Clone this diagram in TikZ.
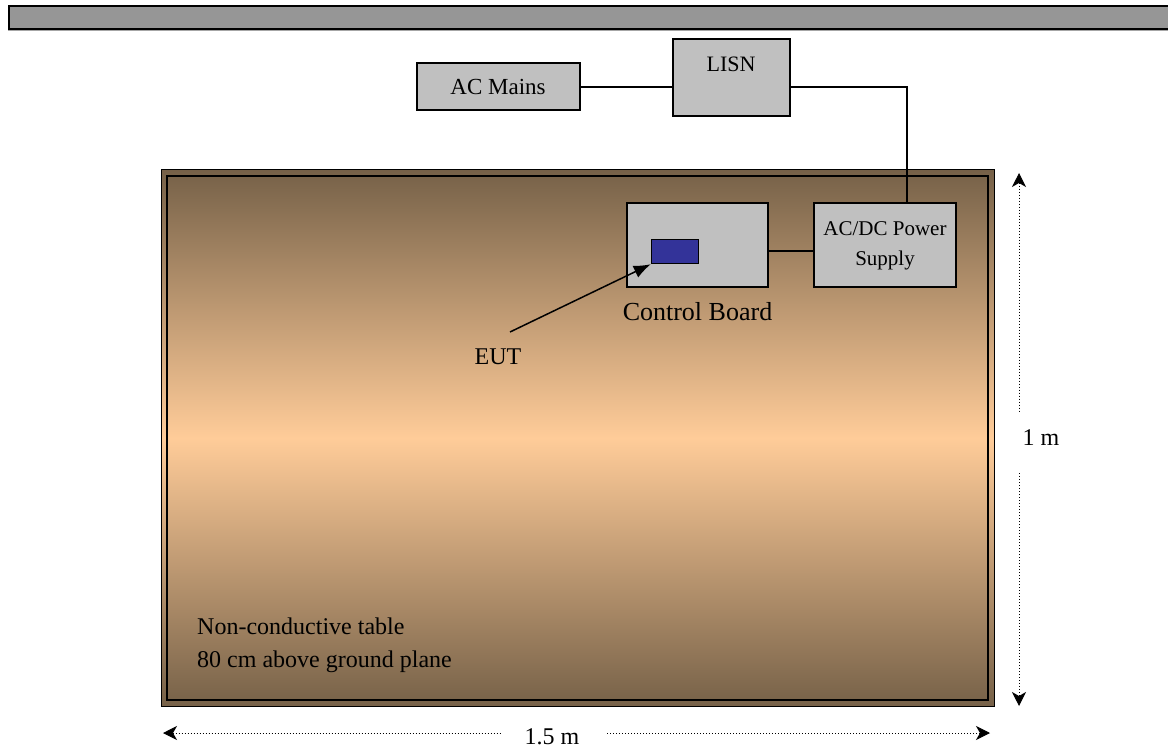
\documentclass[tikz,border=0pt]{standalone}
\usepackage{fontspec}
\setmainfont{Liberation Serif}
\usetikzlibrary{positioning,calc,arrows.meta}

\definecolor{barGray}{RGB}{150,150,150}
\definecolor{boxGray}{RGB}{192,192,192}
\definecolor{tableDark}{RGB}{118,97,72}
\definecolor{tablePeach}{RGB}{255,204,153}
\definecolor{eutBlue}{RGB}{51,51,153}

\tikzset{
  unitbox/.style={draw=black, line width=2pt, fill=boxGray, inner sep=0pt},
  lbl/.style={font=\fontsize{24}{28}\selectfont, inner sep=0pt},
  smalllbl/.style={font=\fontsize{21}{26}\selectfont, align=center, inner sep=0pt},
  wire/.style={draw=black, line width=1.5pt},
  dimline/.style={draw=black, dotted, line width=1pt},
}

\begin{document}
\begin{tikzpicture}[x=1pt, y=-1pt]
    \useasboundingbox (0,0) rectangle (1168,749);

    % Ground plane bar
    \draw[fill=barGray, line width=2pt] (9,6) rectangle (1185,29);
    \draw[gray!70, line width=0.8pt] (8,30.5) -- (1168,30.5);

    % Table
    \shade[top color=tableDark, bottom color=tableDark, middle color=tablePeach]
        (161,170) rectangle (994,706);
    \draw[black, line width=1pt] (161,170) rectangle (994,706);
    \draw[black, line width=2.4pt] (167,176) rectangle (988,700);
    \node[lbl, anchor=west, align=left] (tablelbl) at (197,645)
        {Non-conductive table\\[5pt]80 cm above ground plane};

    % Mains side
    \node[unitbox, minimum width=163, minimum height=47] (acmains) at (498,87) {};
    \node[lbl, font=\fontsize{23}{27}\selectfont] (acmainslbl) at (acmains) {AC Mains};
    \node[unitbox, minimum width=117, minimum height=77] (lisn) at (731,78) {};
    \node[lbl, font=\fontsize{22}{26}\selectfont, below=26pt of lisn.north, anchor=center] (lisnlbl) {LISN};

    % Units on the table
    \node[unitbox, minimum width=141, minimum height=84] (board) at (697.5,245) {};
    \node[lbl, font=\fontsize{26}{30}\selectfont, below=24pt of board.south, anchor=center] (boardlbl) {Control Board};
    \node[draw=black, line width=1.5pt, fill=eutBlue, minimum width=47, minimum height=24, inner sep=0pt]
        (eut) at (675,251.5) {};
    \node[unitbox, minimum width=142, minimum height=84] (psu) at (885,245) {};
    \node[smalllbl] (psulbl) at (885,246) {AC/DC Power\\[4pt]Supply};
    \node[lbl] (eutlbl) at (498,357) {EUT};
    \coordinate (euttail) at (510,332);
    \coordinate (feed) at (907,0);

    % Wiring
    \draw[wire] (acmains.east) -- (acmains.east -| lisn.west);
    \draw[wire] (acmains.east -| lisn.east) -| (feed |- psu.north);
    \draw[wire] (board.east |- 0,251) -- (psu.west |- 0,251);
    \draw[line width=1.5pt, -{Latex[length=17pt, width=13pt]}] (euttail) -- (eut.south west);

    % Dimensions
    \node[lbl] (widthlbl) at (552,737) {1.5 m};
    \node[lbl] (heightlbl) at (1041,438) {1 m};
    \coordinate (wleft) at (163,733);
    \coordinate (wright) at (990,733);
    \coordinate (htop) at (1019,173);
    \coordinate (hbot) at (1019,706);
    \draw[dimline, {Stealth[length=14pt, width=14pt, inset=4pt]}-] (wleft) -- (500,733);
    \draw[dimline, -{Stealth[length=14pt, width=14pt, inset=4pt]}] (607,733) -- (wright);
    \draw[dimline, {Stealth[length=14pt, width=14pt, inset=4pt]}-] (htop) -- (1019,413);
    \draw[dimline, -{Stealth[length=14pt, width=14pt, inset=4pt]}] (1019,473) -- (hbot);
\end{tikzpicture}
\end{document}
